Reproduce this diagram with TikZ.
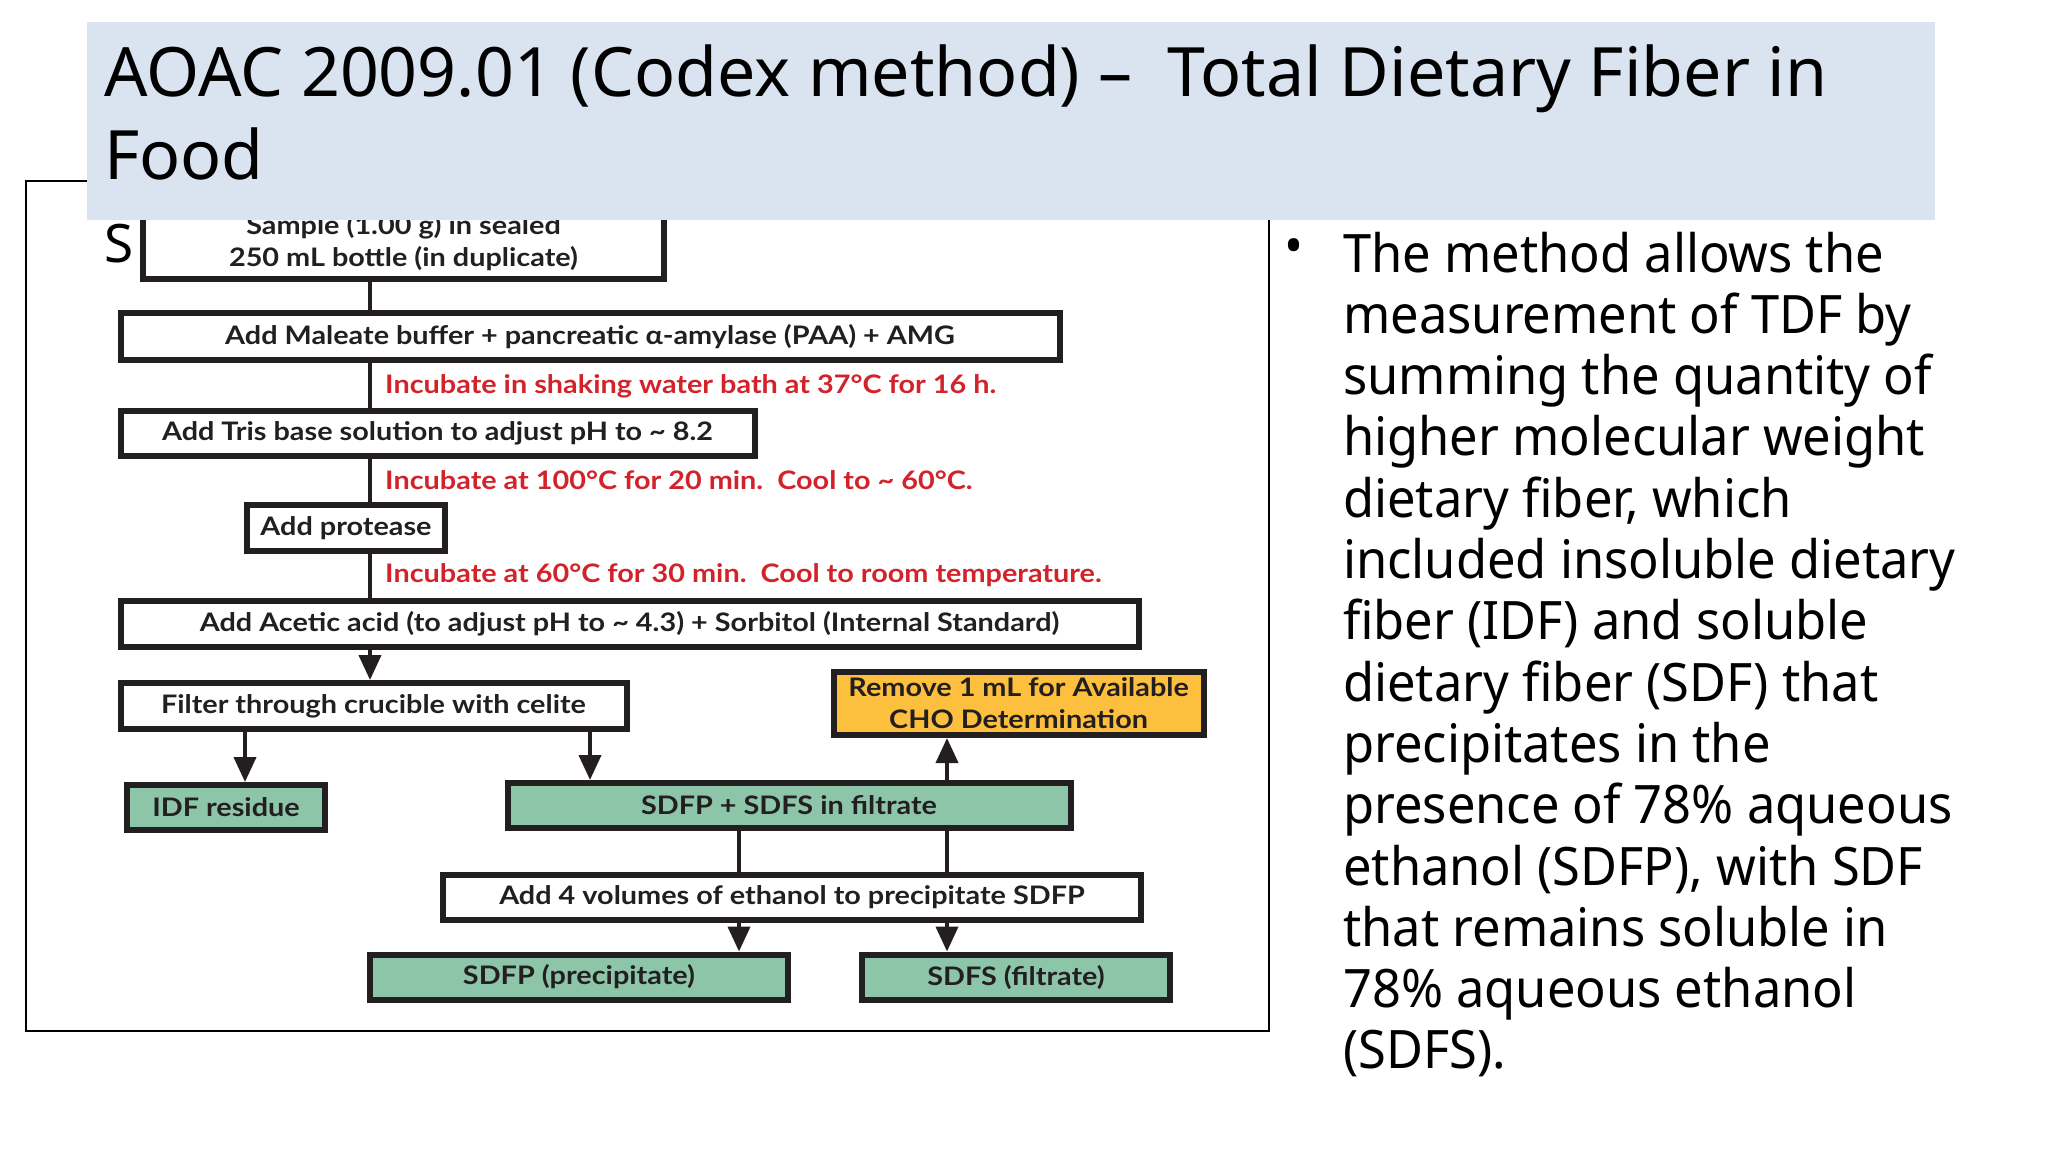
\documentclass[tikz,border=0pt]{standalone}
\usepackage{fontspec}
\setmainfont{Noto Sans}
\newfontfamily\bodyfont{Noto Sans}[FakeStretch=0.955]
\newfontfamily\flowfont{Lato}[FakeStretch=1.13]
\usetikzlibrary{arrows.meta}
\definecolor{ink}{HTML}{231F20}
\definecolor{incub}{HTML}{D2232A}
\definecolor{filt}{HTML}{8DC5A9}
\definecolor{cho}{HTML}{FDBF3E}
\definecolor{band}{HTML}{DAE3F0}
\begin{document}
\begin{tikzpicture}[x=1pt,y=-1pt,
	box/.style={draw=ink,line width=6pt,fill=white,inner sep=0pt,align=center,text=ink,
		font=\flowfont\bfseries\fontsize{25.5}{32}\selectfont},
	wetbox/.style={box,fill=filt},
	chobox/.style={box,fill=cho},
	note/.style={anchor=west,inner sep=0pt,text=incub,font=\flowfont\bfseries\fontsize{25.5}{32}\selectfont},
	link/.style={draw=ink,line width=4pt},
	flow/.style={link,-{Triangle[width=22pt,length=25pt]}}]
\useasboundingbox (0,0) rectangle (2048,1152);
\fill[white] (0,0) rectangle (2048,1152);
\draw[line width=1.5pt] (26,181) rectangle (1269,1031);
\node[anchor=base west,inner sep=0pt,font=\fontsize{53}{60}\selectfont] (s) at (104,262) {S};
\node[box,minimum width=521pt,minimum height=72pt] (sample) at (403.5,243) {Sample (1.00 g) in sealed\\250 mL bottle (in duplicate)};
\node[box,minimum width=939pt,minimum height=47pt] (maleate) at (590,336.5) {Add Maleate buffer + pancreatic α-amylase (PAA) + AMG};
\node[box,minimum width=634pt,minimum height=45pt] (tris) at (437.5,433.5) {Add Tris base solution to adjust pH to \textasciitilde\ 8.2};
\node[box,minimum width=198pt,minimum height=46pt] (protease) at (346,528) {Add protease};
\node[box,minimum width=1018pt,minimum height=46pt] (acetic) at (629.5,624) {Add Acetic acid (to adjust pH to \textasciitilde\ 4.3) + Sorbitol (Internal Standard)};
\node[box,minimum width=506pt,minimum height=46pt] (filter) at (373.5,706) {Filter through crucible with celite};
\node[wetbox,minimum width=198pt,minimum height=45pt] (idf) at (226,807.5) {IDF residue};
\node[wetbox,minimum width=563pt,minimum height=45pt] (filtrate) at (789,805.5) {SDFP + SDFS in filtrate};
\node[chobox,minimum width=370pt,minimum height=63pt] (remove) at (1018.6,703.5) {Remove 1 mL for Available\\CHO Determination};
\node[box,minimum width=698pt,minimum height=45pt] (ethanol) at (792,897) {Add 4 volumes of ethanol to precipitate SDFP};
\node[wetbox,minimum width=418pt,minimum height=45pt] (sdfp) at (579,977) {SDFP (precipitate)};
\node[wetbox,minimum width=308pt,minimum height=45pt] (sdfs) at (1016,977) {SDFS (filtrate)};
\node[note] (inc1) at (385,386.7) {Incubate in shaking water bath at 37°C for 16 h.};
\node[note] (inc2) at (385,480) {Incubate at 100°C for 20 min.\ \ Cool to \textasciitilde\ 60°C.};
\node[note] (inc3) at (385,575) {Incubate at 60°C for 30 min.\ \ Cool to room temperature.};
\coordinate (main) at (370,0);
\coordinate (left) at (245,0);
\coordinate (right) at (590,0);
\coordinate (colA) at (739,0);
\coordinate (colB) at (947,0);
\draw[link] (sample.south -| main) -- (maleate.north -| main);
\draw[link] (maleate.south -| main) -- (tris.north -| main);
\draw[link] (tris.south -| main) -- (protease.north -| main);
\draw[link] (protease.south -| main) -- (acetic.north -| main);
\draw[flow] (acetic.south -| main) -- (filter.north -| main);
\draw[flow] (filter.south -| left) -- (idf.north -| left);
\draw[flow] (filter.south -| right) -- (filtrate.north -| right);
\draw[flow] (filtrate.north -| colB) -- (remove.south -| colB);
\draw[link] (filtrate.south -| colA) -- (ethanol.north -| colA);
\draw[link] (filtrate.south -| colB) -- (ethanol.north -| colB);
\draw[flow] (ethanol.south -| colA) -- (sdfp.north -| colA);
\draw[flow] (ethanol.south -| colB) -- (sdfs.north -| colB);
\fill[band] (87,22) rectangle (1935,220);
\node[anchor=base west,inner sep=0pt,align=left,font=\fontsize{68.1}{83}\selectfont] (title) at (104,179) {AOAC 2009.01 (Codex method) –\ \ Total Dietary Fiber in\\Food};
\node[anchor=base,inner sep=0pt,font=\bodyfont\fontsize{53}{61.3}\selectfont] (dot) at (1294,264) {•};
\node[anchor=base west,inner sep=0pt,align=left,font=\bodyfont\fontsize{53}{61.3}\selectfont] (body) at (1343,1068.9) {The method allows the\\measurement of TDF by\\summing the quantity of\\higher molecular weight\\dietary fiber, which\\included insoluble dietary\\fiber (IDF) and soluble\\dietary fiber (SDF) that\\precipitates in the\\presence of 78\% aqueous\\ethanol (SDFP), with SDF\\that remains soluble in\\78\% aqueous ethanol\\(SDFS).};
\end{tikzpicture}
\end{document}
